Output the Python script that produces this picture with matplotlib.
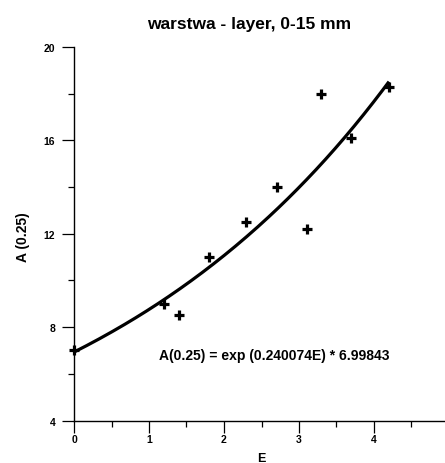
import numpy as np
import matplotlib
matplotlib.use("Agg")
import matplotlib.pyplot as plt
from matplotlib.ticker import MultipleLocator, FixedFormatter, FixedLocator

# --- data ---
E_VALUES = [0.0, 1.2, 1.4, 1.8, 2.3, 2.7, 3.1, 3.3, 3.7, 4.2]
A_VALUES = [7.0, 9.0, 8.5, 11.0, 12.5, 14.0, 12.2, 18.0, 16.1, 18.3]

# fitted curve as drawn (constants)
FIT_A = 6.93
FIT_B = 0.234
FIT_RANGE = (0.0, 4.2)

X_TICKS = [0, 1, 2, 3, 4, 5]
X_TICK_LABELS = ['0', '1', '2', '3', '4', '']
Y_TICKS = [4, 8, 12, 16, 20]

TITLE = "warstwa - layer, 0-15 mm"
X_LABEL = "E"
Y_LABEL = "A (0.25)"
FORMULA = "A(0.25) = exp (0.240074E) * 6.99843"

plt.rcParams['font.family'] = ['Liberation Sans', 'DejaVu Sans']
plt.rcParams['font.weight'] = 'bold'

W, H = 445, 464
fig = plt.figure(figsize=(W / 100, H / 100), dpi=100)

# axes: x=0 at px 74, x=5 at px 449; y=20 at px 48, y=4 at px 421.5
ax = fig.add_axes([74 / W, 1 - 421.5 / H, 375 / W, 373.5 / H])

e_fit = np.linspace(FIT_RANGE[0], FIT_RANGE[1], 200)
ax.plot(e_fit, FIT_A * np.exp(FIT_B * e_fit), color='black', linewidth=2.3,
        solid_capstyle='butt', clip_on=False)
ax.plot(E_VALUES, A_VALUES, linestyle='none', marker='+', color='black',
        markersize=7.5, markeredgewidth=2.3, clip_on=False)

ax.set_xlim(0, 5)
ax.set_ylim(4, 20)
ax.xaxis.set_major_locator(FixedLocator(X_TICKS))
ax.xaxis.set_major_formatter(FixedFormatter(X_TICK_LABELS))
ax.xaxis.set_minor_locator(MultipleLocator(0.5))
ax.yaxis.set_major_locator(FixedLocator(Y_TICKS))
ax.yaxis.set_minor_locator(MultipleLocator(2))

for side in ('top', 'right'):
    ax.spines[side].set_visible(False)
for side in ('left', 'bottom'):
    ax.spines[side].set_linewidth(1.0)

ax.tick_params(which='major', direction='out', length=8.5, width=0.9,
               labelsize=7.5, pad=1.5)
ax.tick_params(axis='y', which='major', pad=5.0)
ax.tick_params(which='minor', direction='out', length=4, width=0.9)
for lab in ax.get_xticklabels() + ax.get_yticklabels():
    lab.set_fontweight('bold')

fig.text(249.5 / W, 1 - 24 / H, TITLE, ha='center', va='center',
         fontsize=12.5, fontweight='bold')
fig.text(261 / W, 1 - 453 / H, X_LABEL, ha='center', va='top',
         fontsize=9, fontweight='bold')
fig.text(22.5 / W, 1 - 237.5 / H, Y_LABEL, ha='center', va='center',
         rotation=90, fontsize=10, fontweight='bold')
fig.text(274.5 / W, 1 - 356 / H, FORMULA, ha='center', va='center',
         fontsize=10, fontweight='bold')

fig.savefig("out.png", dpi=100)
